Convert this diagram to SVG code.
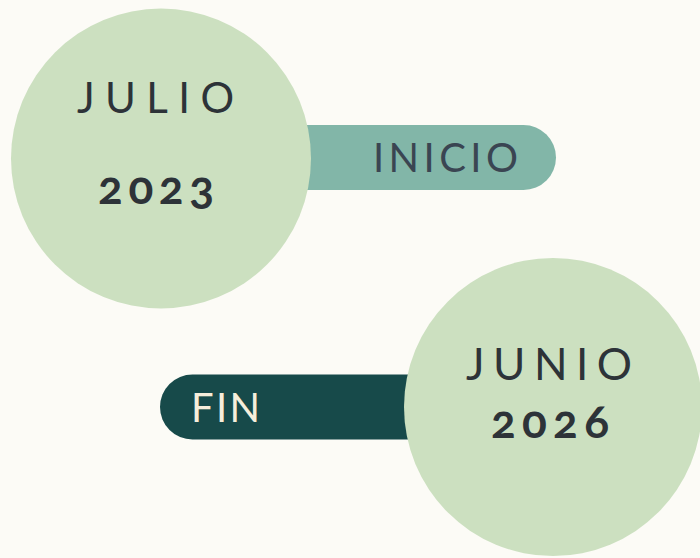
<svg xmlns="http://www.w3.org/2000/svg" width="700" height="558" viewBox="0 0 700 558">
<style>
.bg{fill:#FCFBF6}
.circle{fill:#CCE0C0}
.word{font-family:Lato,"Open Sans","DejaVu Sans",sans-serif;font-weight:400;fill:#2D3338}
.num{font-family:Lato,"Open Sans","DejaVu Sans",sans-serif;font-weight:700;fill:#2D3338;font-variant-numeric:oldstyle-nums;font-feature-settings:"onum" 1}
</style>
<rect class="bg" x="0" y="0" width="700" height="558"/>
<g id="connectors">
<rect id="pill-inicio" x="250" y="125" width="306" height="65" rx="32.5" fill="#82B6A8"/>
<rect id="pill-fin" x="160" y="374.5" width="300" height="65" rx="32.5" fill="#174A4A"/>
</g>
<g id="node-inicio-label">
<text class="word" x="373" y="172" font-size="40" textLength="145" lengthAdjust="spacing" fill="#3A4552" style="fill:#3A4552">INICIO</text>
</g>
<g id="node-fin-label">
<text class="word" x="191" y="422" font-size="40" textLength="69" lengthAdjust="spacing" style="fill:#F6EEDB">FIN</text>
</g>
<g id="node-julio">
<circle class="circle" cx="161" cy="158.5" r="150"/>
<text class="word" x="77" y="113" font-size="42" textLength="157" lengthAdjust="spacing">JULIO</text>
<text class="num" x="98" y="204" font-size="46" textLength="116" lengthAdjust="spacing">2023</text>
</g>
<g id="node-junio">
<circle class="circle" cx="553" cy="407" r="149"/>
<text class="word" x="466" y="380" font-size="44" textLength="166" lengthAdjust="spacing">JUNIO</text>
<text class="num" x="491" y="438" font-size="46" textLength="118" lengthAdjust="spacing">2026</text>
</g>
</svg>
